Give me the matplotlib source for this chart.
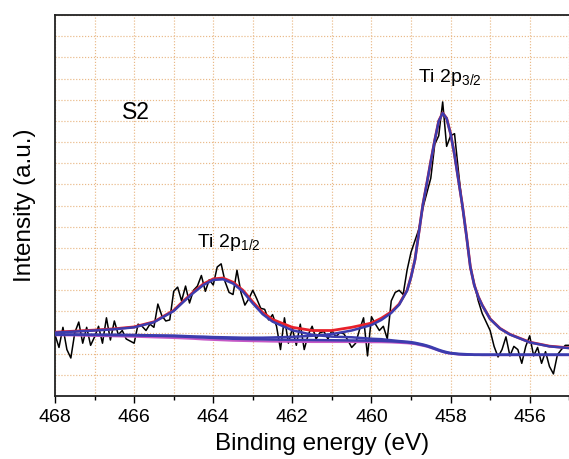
"""Ti 2p XPS spectrum of sample S2 with peak fit."""

import matplotlib

matplotlib.use("Agg")
import matplotlib.pyplot as plt
import numpy as np
from matplotlib.ticker import MultipleLocator

plt.rcParams["font.family"] = ["Liberation Sans", "DejaVu Sans"]
plt.rcParams["mathtext.fontset"] = "custom"
plt.rcParams["mathtext.rm"] = "Liberation Sans"
plt.rcParams["mathtext.it"] = "Liberation Sans:italic"

# measured spectrum, 0.1 eV steps starting at 468.0 eV (arb. units)
spectrum_start = 468.0
spectrum_step = 0.1
spectrum = [
    2.9, 2.3, 3.25, 2.2, 1.8, 3.0, 3.5, 2.5, 3.25, 2.4,
    2.8, 3.3, 2.5, 3.7, 2.65, 3.55, 2.9, 3.1, 2.7, 2.6,
    2.5, 3.4, 3.3, 3.1, 3.4, 3.25, 4.35, 3.8, 3.55, 3.6,
    4.95, 5.15, 4.5, 5.2, 4.4, 5.0, 5.2, 5.7, 4.95, 5.5,
    5.25, 6.1, 6.25, 5.4, 4.9, 4.8, 5.95, 4.9, 4.3, 4.6,
    5.0, 4.6, 4.15, 4.1, 3.6, 3.85, 3.3, 2.2, 3.7, 2.5,
    3.2, 2.4, 3.4, 2.2, 2.9, 3.3, 2.7, 3.0, 3.05, 2.7,
    3.1, 2.8, 3.0, 2.95, 2.65, 2.3, 2.5, 3.15, 3.7, 1.9,
    3.75, 3.4, 3.1, 3.3, 2.7, 4.5, 4.9, 5.0, 4.8, 5.95,
    6.8, 7.35, 7.9, 8.9, 9.6, 10.3, 11.9, 12.3, 13.9, 11.8,
    12.3, 12.4, 10.6, 8.9, 7.6, 6.1, 5.3, 4.5, 3.9, 3.5,
    3.1, 2.35, 1.85, 2.2, 2.8, 1.9, 2.35, 2.2, 1.55, 2.35,
    2.85, 1.9, 2.3, 1.55, 2.1, 1.4, 1.05, 1.95, 2.2, 2.4,
    2.4,
]

# fitted curves read at these binding energies
fit_energy = [
    468.0, 467.5, 467.0, 466.5, 466.0, 465.5, 465.0, 464.75, 464.5, 464.25,
    464.0, 463.75, 463.5, 463.25, 463.0, 462.75, 462.5, 462.0, 461.5, 461.0,
    460.5, 460.0, 459.75, 459.5, 459.3, 459.1, 459.0, 458.9, 458.8, 458.7,
    458.6, 458.5, 458.4, 458.3, 458.2, 458.1, 458.0, 457.9, 457.8, 457.7,
    457.6, 457.5, 457.4, 457.3, 457.2, 457.0, 456.75, 456.5, 456.0, 455.5,
    455.0,
]
envelope = [
    3.02, 3.07, 3.12, 3.18, 3.27, 3.51, 4.05, 4.50, 4.92, 5.30,
    5.54, 5.58, 5.38, 5.00, 4.45, 3.95, 3.62, 3.25, 3.10, 3.10,
    3.25, 3.45, 3.68, 3.98, 4.35, 5.00, 5.64, 6.45, 7.75, 9.06,
    10.06, 11.10, 12.10, 13.00, 13.38, 13.13, 12.40, 11.40, 10.20, 9.00,
    7.60, 6.10, 5.24, 4.70, 4.30, 3.65, 3.20, 2.92, 2.55, 2.36,
    2.28,
]
peak_2p12 = [
    3.00, 3.05, 3.10, 3.16, 3.25, 3.49, 4.02, 4.46, 4.88, 5.25,
    5.49, 5.52, 5.32, 4.94, 4.38, 3.87, 3.52, 3.11, 2.90, 2.81,
    2.78, 2.71, 2.69, 2.64, 2.60, 2.57, 2.55, 2.52, 2.48, 2.44,
    2.39, 2.33, 2.26, 2.19, 2.13, 2.08, 2.04, 2.02, 2.00, 1.99,
    1.98, 1.97, 1.96, 1.96, 1.96, 1.96, 1.96, 1.96, 1.96, 1.96,
    1.96,
]
peak_2p32 = [
    2.91, 2.91, 2.90, 2.90, 2.89, 2.87, 2.86, 2.84, 2.82, 2.81,
    2.79, 2.78, 2.77, 2.76, 2.76, 2.76, 2.77, 2.80, 2.85, 2.93,
    3.10, 3.36, 3.60, 3.93, 4.32, 4.98, 5.62, 6.44, 7.74, 9.05,
    10.05, 11.09, 12.09, 12.99, 13.37, 13.12, 12.39, 11.39, 10.19, 8.99,
    7.59, 6.09, 5.23, 4.69, 4.29, 3.64, 3.19, 2.91, 2.54, 2.35,
    2.27,
]
background = [
    2.90, 2.90, 2.89, 2.88, 2.87, 2.85, 2.83, 2.81, 2.79, 2.77,
    2.75, 2.73, 2.71, 2.70, 2.69, 2.68, 2.67, 2.66, 2.65, 2.64,
    2.63, 2.62, 2.61, 2.59, 2.57, 2.54, 2.52, 2.49, 2.45, 2.41,
    2.36, 2.30, 2.23, 2.16, 2.10, 2.05, 2.02, 2.00, 1.98, 1.97,
    1.96, 1.96, 1.95, 1.95, 1.95, 1.95, 1.95, 1.95, 1.95, 1.95,
    1.95,
]
background_raw = [
    2.88, 2.87, 2.85, 2.83, 2.81, 2.78, 2.75, 2.73, 2.71, 2.68,
    2.66, 2.64, 2.62, 2.61, 2.60, 2.59, 2.58, 2.57, 2.56, 2.56,
    2.56, 2.55, 2.55, 2.54, 2.52, 2.50, 2.48, 2.46, 2.42, 2.38,
    2.34, 2.28, 2.22, 2.15, 2.09, 2.04, 2.01, 1.99, 1.97, 1.96,
    1.95, 1.95, 1.95, 1.95, 1.94, 1.94, 1.94, 1.94, 1.94, 1.94,
    1.94,
]

RED = "#e8202a"
BLUE = "#3c3cae"
PINK = "#c659c6"
GRID = "#e9b987"

spectrum_energy = spectrum_start - spectrum_step * np.arange(len(spectrum))

fig = plt.figure(figsize=(5.69, 4.59), dpi=100)
ax = fig.add_axes([0.0967, 0.137, 0.9385, 0.830])

ax.plot(spectrum_energy, spectrum, color="black", lw=1.1, zorder=3)
ax.plot(fit_energy, background_raw, color=PINK, lw=1.6, zorder=4)
ax.plot(fit_energy, background, color=BLUE, lw=1.8, zorder=5)
ax.plot(fit_energy, envelope, color=RED, lw=2.0, zorder=5)
ax.plot(fit_energy, peak_2p12, color=BLUE, lw=1.8, zorder=6)
ax.plot(fit_energy, peak_2p32, color=BLUE, lw=1.8, zorder=6)

ax.set_xlim(468, 454.5)
ax.set_ylim(0, 18)
ax.xaxis.set_major_locator(MultipleLocator(2))
ax.xaxis.set_minor_locator(MultipleLocator(1))
ax.yaxis.set_major_locator(MultipleLocator(1))
ax.grid(True, which="both", axis="x", color=GRID, ls=(0, (1, 1.5)), lw=0.85)
ax.grid(True, which="major", axis="y", color=GRID, ls=(0, (1, 1.5)), lw=0.85)
ax.set_axisbelow(True)

ax.tick_params(axis="x", which="major", direction="out", length=5, width=1, labelsize=14, pad=4.5)
ax.tick_params(axis="x", which="minor", direction="out", length=3, width=1)
ax.tick_params(axis="y", which="both", left=False, labelleft=False)

for side in ("left", "top", "bottom"):
    ax.spines[side].set_linewidth(1.3)
    ax.spines[side].set_color("#222222")
ax.spines["right"].set_visible(False)

ax.set_xlabel("Binding energy (eV)", fontsize=17.5, labelpad=5)
ax.set_ylabel("Intensity (a.u.)", fontsize=17.5, labelpad=14)

ax.text(465.95, 13.4, "S2", fontsize=16.5, ha="center", va="center")
ax.text(458.83, 14.83, r"Ti 2p$_{\mathregular{3/2}}$", fontsize=14, ha="left", va="baseline")
ax.text(464.41, 7.04, r"Ti 2p$_{\mathregular{1/2}}$", fontsize=14, ha="left", va="baseline")

fig.savefig("out.png", dpi=100)
plt.close(fig)
